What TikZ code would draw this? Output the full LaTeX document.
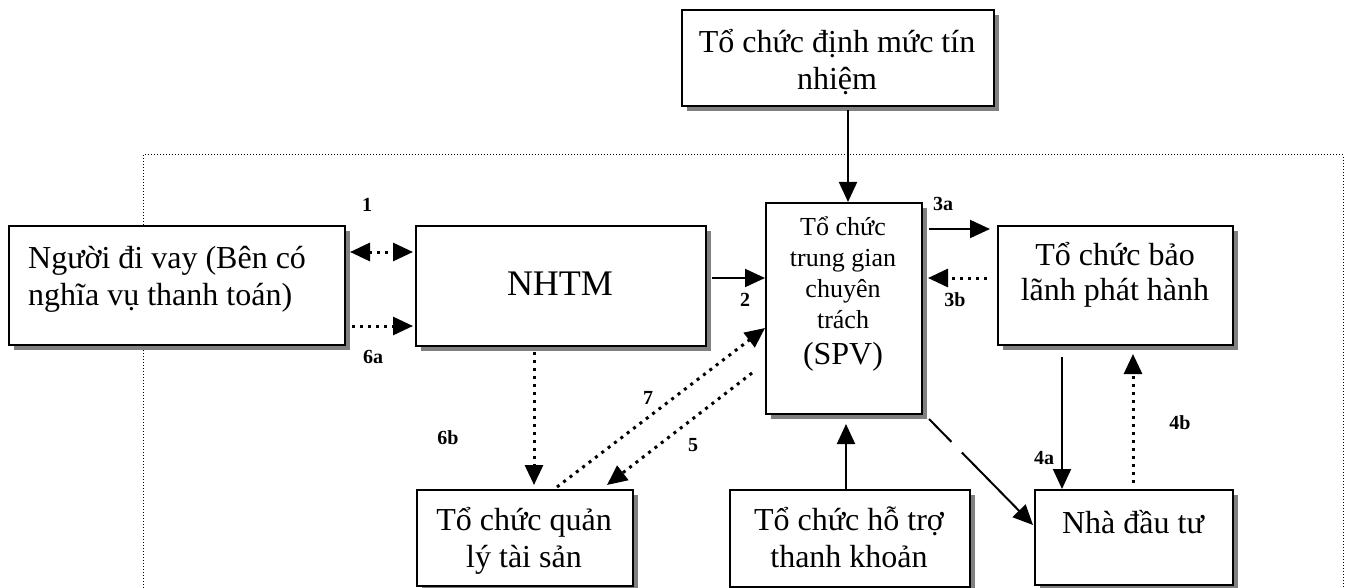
\documentclass[tikz,border=0pt]{standalone}
\usepackage{fontspec}
\setmainfont{Liberation Serif}
\usetikzlibrary{arrows.meta,shadows}
\begin{document}
\begin{tikzpicture}[x=1pt,y=-1pt,
 box/.style={draw, line width=2pt, fill=white, inner sep=0pt, anchor=north west,
   drop shadow={shadow xshift=5pt, shadow yshift=-5pt, fill=black!50, opacity=1}},
 txt/.style={font=\fontsize{32}{37}\selectfont, inner sep=0pt, align=center, anchor=base},
 lbl/.style={font=\bfseries\fontsize{20}{22}\selectfont, inner sep=0pt},
 solidarrow/.style={line width=2pt, -{Triangle[length=20pt,width=18pt]}},
 dotarrow/.style={line width=3pt, dash pattern=on 3pt off 5pt, -{Triangle[length=20pt,width=18pt]}},
 frame/.style={line width=1pt, dash pattern=on 1pt off 2pt}
]
\useasboundingbox (0,0) rectangle (1352,588);
\coordinate (fa) at (143,600);
\coordinate (fb) at (143,155);
\coordinate (fc) at (1343,155);
\coordinate (fd) at (1343,600);
\draw[frame] (fa) -- (fb) -- (fc) -- (fd);

\node[box, minimum width=312pt, minimum height=96pt] (rating) at (681,9) {};
\node[box, minimum width=336pt, minimum height=119pt] (borrower) at (8,225) {};
\node[box, minimum width=290pt, minimum height=120pt] (nhtm) at (415,225) {};
\node[box, minimum width=156pt, minimum height=211pt] (spv) at (765,202) {};
\node[box, minimum width=235pt, minimum height=119pt] (underw) at (997,225) {};
\node[box, minimum width=216pt, minimum height=96pt] (asset) at (416,489) {};
\node[box, minimum width=240pt, minimum height=97pt] (liquid) at (729,489) {};
\node[box, minimum width=198pt, minimum height=95pt] (investor) at (1034,489) {};

\node[txt] (trating) at (837,90) {Tổ chức định mức tín\\nhiệm};
\node[txt, anchor=base west, align=left] (tborrower) at (28,305) {Người đi vay (Bên có\\nghĩa vụ thanh toán)};
\node[txt, font=\fontsize{36}{40}\selectfont] (tnhtm) at (560,295) {NHTM};
\node[txt, font=\fontsize{26}{30.7}\selectfont] (tspv) at (843,328) {Tổ chức\\trung gian\\chuyên\\trách};
\node[txt] (tspv2) at (843,364) {(SPV)};
\node[txt, font=\fontsize{32}{35}\selectfont] (tunderw) at (1115,300) {Tổ chức bảo\\lãnh phát hành};
\node[txt] (tinvestor) at (1133,533) {Nhà đầu tư};
\node[txt] (tasset) at (524,567) {Tổ chức quản\\lý tài sản};
\node[txt] (tliquid) at (849,567) {Tổ chức hỗ trợ\\thanh khoản};

% connectors
\draw[dotarrow, {Triangle[length=20pt,width=18pt]}-{Triangle[length=20pt,width=18pt]}]
  ([shift={(4,27)}]borrower.north east) -- ([shift={(-2,27)}]nhtm.north west);
\draw[dotarrow] ([shift={(6,101)}]borrower.north east) -- ([shift={(-2,101)}]nhtm.north west);
\draw[solidarrow] ([shift={(5,53)}]nhtm.north east) -- ([shift={(0,76)}]spv.north west);
\draw[solidarrow] ([shift={(6,27)}]spv.north east) -- ([shift={(-7,4)}]underw.north west);
\draw[dotarrow] ([shift={(-10,53)}]underw.north west) -- ([shift={(5,76)}]spv.north east);
\draw[solidarrow] ([shift={(65,11)}]underw.south west) -- ([shift={(28,0)}]investor.north west);
\draw[dotarrow] ([shift={(99,-6)}]investor.north west) -- ([shift={(136,8)}]underw.south west);
\draw[dotarrow] ([shift={(119,5)}]nhtm.south west) -- ([shift={(118,-4)}]asset.north west);
\draw[dotarrow] ([shift={(141,-2)}]asset.north west) -- ([shift={(0,126)}]spv.north west);
\draw[dotarrow] ([shift={(-13,171)}]spv.north west) -- ([shift={(191,-4)}]asset.north west);
\draw[solidarrow] ([shift={(167,3)}]rating.south west) -- ([shift={(83,0)}]spv.north west);
\draw[solidarrow] ([shift={(117,0)}]liquid.north west) -- ([shift={(81,9)}]spv.south west);
\draw[solidarrow, dash pattern=on 32pt off 15pt on 300pt] ([shift={(6,4)}]spv.south east) -- ([shift={(-1,36)}]investor.north west);

% labels
\node[lbl] (l1) at (367,205) {1};
\node[lbl] (l6a) at (373,357) {6a};
\node[lbl] (l2) at (745,300) {2};
\node[lbl] (l3a) at (943,204) {3a};
\node[lbl] (l3b) at (955,300) {3b};
\node[lbl] (l4a) at (1044,458) {4a};
\node[lbl] (l4b) at (1180,423) {4b};
\node[lbl] (l6b) at (448,438) {6b};
\node[lbl] (l7) at (648,398) {7};
\node[lbl] (l5) at (693,445) {5};
\end{tikzpicture}
\end{document}
